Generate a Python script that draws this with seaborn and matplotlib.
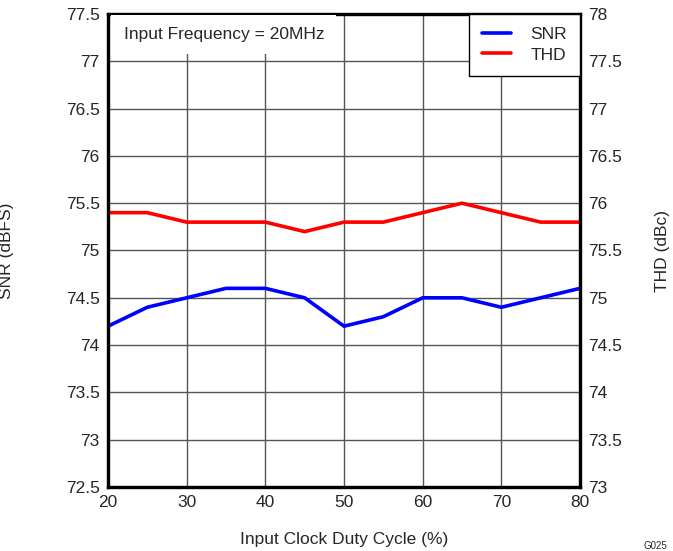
import pandas as pd
import numpy as np
import seaborn as sns
import matplotlib.pyplot as plt

duty_cycle = [20, 25, 30, 35, 40, 45, 50, 55, 60, 65, 70, 75, 80]
snr = [74.2, 74.4, 74.5, 74.6, 74.6, 74.5, 74.2, 74.3, 74.5, 74.5, 74.4, 74.5, 74.6]
thd = [75.9, 75.9, 75.8, 75.8, 75.8, 75.7, 75.8, 75.8, 75.9, 76.0, 75.9, 75.8, 75.8]

df = pd.DataFrame({"Duty": duty_cycle, "SNR": snr, "THD": thd})

sns.set_style("white")
plt.rcParams["font.family"] = ["Liberation Sans", "DejaVu Sans"]
fs = 12.5

fig = plt.figure(figsize=(6.73, 5.51), dpi=100)
ax = fig.add_axes([108 / 673, 1 - 487 / 551, 472 / 673, 473 / 551])
ax2 = ax.twinx()

sns.lineplot(data=df, x="Duty", y="SNR", ax=ax, color="#0000ff", lw=2.6, label="SNR", legend=False)
sns.lineplot(data=df, x="Duty", y="THD", ax=ax2, color="#ff0000", lw=2.6, label="THD", legend=False)

ax.set_xlim(20, 80)
ax.set_ylim(72.5, 77.5)
ax2.set_ylim(73, 78)
ax.set_xticks(np.arange(20, 81, 10))
ax.set_yticks(np.arange(72.5, 77.6, 0.5))
ax2.set_yticks(np.arange(73, 78.1, 0.5))
ax.set_yticklabels([f"{v:g}" for v in np.arange(72.5, 77.6, 0.5)])
ax2.set_yticklabels([f"{v:g}" for v in np.arange(73, 78.1, 0.5)])

ax.grid(True, color="#555555", lw=1.0)
ax.tick_params(axis="both", length=0, pad=6, labelsize=fs)
ax2.tick_params(axis="y", length=0, pad=6, labelsize=fs)

for a in (ax, ax2):
    for sp in a.spines.values():
        sp.set_color("black")
        sp.set_linewidth(2.3)

ax.set_xlabel("Input Clock Duty Cycle (%)", fontsize=fs)
ax.set_ylabel("SNR (dBFS)", fontsize=fs)
ax2.set_ylabel("THD (dBc)", fontsize=fs, rotation=90)
ax.xaxis.set_label_coords(0.5, -0.095)
ax.yaxis.set_label_coords(-0.2, 0.5)
ax2.yaxis.set_label_coords(1.158, 0.5)

ax2.text(0.033, 0.956, "Input Frequency = 20MHz", transform=ax.transAxes, fontsize=fs,
         va="center", ha="left",
         bbox=dict(boxstyle="square,pad=0.7", fc="white", ec="none"), zorder=5)

h1, l1 = ax.get_legend_handles_labels()
h2, l2 = ax2.get_legend_handles_labels()
leg = ax2.legend(h1 + h2, l1 + l2, loc="upper right", frameon=True, fancybox=False,
                 edgecolor="black", framealpha=1, borderaxespad=0, fontsize=fs,
                 handlelength=1.7, handletextpad=1.1, labelspacing=0.3, borderpad=0.75)
leg.get_frame().set_linewidth(1.0)

fig.text(655 / 673, 1 - 546 / 551, "G025", fontsize=7, ha="center", va="center")

fig.savefig("out.png", dpi=100)
